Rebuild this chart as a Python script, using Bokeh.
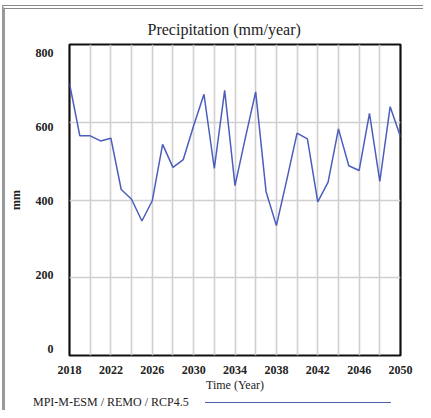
from bokeh.plotting import figure
from bokeh.layouts import column
from bokeh.models import FixedTicker, Range1d, LinearAxis, Div
from bokeh.embed import file_html
from bokeh.resources import INLINE

years = list(range(2018, 2051))
precip = [700, 565, 565, 552, 559, 427, 402, 346, 398, 543, 484, 504, 591, 672, 481,
          682, 437, 560, 678, 422, 334, 451, 572, 557, 395, 446, 583, 488, 476, 623,
          448, 640, 563]
x_tick_values = list(range(2018, 2051, 4))
x_grid_values = list(range(2018, 2051, 2))
y_tick_values = [0, 200, 400, 600, 800]
title_text = "Precipitation (mm/year)"
x_label = "Time (Year)"
y_label = "mm"
series_name = "MPI-M-ESM / REMO / RCP4.5"

SERIF = "Liberation Serif"
LINE_COLOR = "#4b5dbd"
TEXT_COLOR = "#222222"

p = figure(width=418, height=385, output_backend="svg", toolbar_location=None,
           x_range=Range1d(2018, 2050), y_range=Range1d(0, 800),
           min_border_left=61, min_border_right=23, min_border_top=35, min_border_bottom=34,
           y_axis_location=None)

# label scale of the printed axis is slightly compressed versus the grid
p.extra_y_ranges = {"labels": Range1d(-18, 822)}
yax = LinearAxis(y_range_name="labels", ticker=FixedTicker(ticks=y_tick_values))
p.add_layout(yax, "left")

p.title.text = title_text
p.title.align = "left"
p.title.offset = 78
p.title.standoff = 13
p.title.text_font = SERIF
p.title.text_font_size = "16px"
p.title.text_font_style = "normal"
p.title.text_color = TEXT_COLOR

p.outline_line_color = "#111111"
p.outline_line_width = 2.2
p.outline_line_alpha = 1

p.xaxis.ticker = FixedTicker(ticks=x_tick_values)
p.xgrid.ticker = FixedTicker(ticks=x_grid_values)
p.ygrid.ticker = FixedTicker(ticks=y_tick_values)
for g in (p.xgrid, p.ygrid):
    g.grid_line_color = "#d0d0d0"
    g.grid_line_width = 1.6

for ax in (p.xaxis[0], yax):
    ax.axis_line_color = None
    ax.major_tick_line_color = None
    ax.minor_tick_line_color = None
    ax.major_label_text_font = SERIF
    ax.major_label_text_font_style = "bold"
    ax.major_label_text_font_size = "12px"
    ax.major_label_text_color = TEXT_COLOR
    ax.axis_label_text_font = SERIF
    ax.axis_label_text_color = TEXT_COLOR
    ax.axis_label_text_font_size = "12px"

p.xaxis.major_label_standoff = 4
p.xaxis.axis_label = x_label
p.xaxis.axis_label_text_font_style = "normal"
p.xaxis.axis_label_standoff = 1
yax.major_label_standoff = 10
yax.axis_label = y_label
yax.axis_label_text_font_style = "bold"
yax.axis_label_standoff = 10

p.line(years, precip, line_color=LINE_COLOR, line_width=1.5)

# legend strip below the chart (text first, then the line sample)
legend_html = (
    '<div style="position:relative;width:418px;height:16px;'
    "font-family:'Liberation Serif';font-size:12px;color:#222222;\">"
    '<span style="position:absolute;left:28px;top:0px;line-height:16px;white-space:nowrap;">'
    + series_name +
    '</span>'
    '<span style="position:absolute;left:200px;top:8px;width:186px;height:0px;'
    'border-top:1.3px solid #4e5fa8;"></span>'
    '</div>'
)
lg = Div(text=legend_html, width=418, height=16, margin=0)

layout = column(p, lg, spacing=0,
                styles={"margin-left": "2px", "margin-top": "5px",
                        "border-left": "3px solid #999999",
                        "border-top": "4px double #888888"})

open("out.html", "w").write(file_html(layout, INLINE))
